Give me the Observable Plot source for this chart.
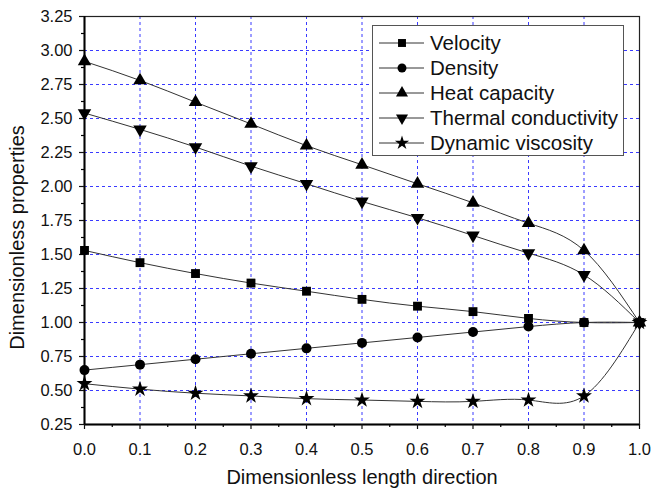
<!DOCTYPE html>
<html>
<head>
<meta charset="utf-8">
<script src="https://cdn.jsdelivr.net/npm/d3@7"></script>
<script src="https://cdn.jsdelivr.net/npm/@observablehq/plot@0.6"></script>
<style>
  html, body { margin: 0; padding: 0; background: #fff; }
  #wrap { position: relative; width: 651px; height: 491px; font-family: "Liberation Sans", Arial, sans-serif; }
  #legend { position: absolute; left: 372px; top: 25px; width: 250px; height: 129px; border: 1px solid #555; background: #fff; }
</style>
</head>
<body>
<div id="wrap"><div id="legend"></div></div>
<script>
const xs = [0.0, 0.1, 0.2, 0.3, 0.4, 0.5, 0.6, 0.7, 0.8, 0.9, 1.0];
const velocity = [1.53, 1.44, 1.36, 1.29, 1.23, 1.17, 1.12, 1.08, 1.03, 1.00, 1.00];
const density = [0.65, 0.69, 0.73, 0.77, 0.81, 0.85, 0.89, 0.93, 0.97, 1.00, 1.00];
const heatCapacity = [2.92, 2.78, 2.62, 2.46, 2.30, 2.16, 2.02, 1.88, 1.73, 1.53, 1.00];
const thermalConductivity = [2.54, 2.42, 2.29, 2.15, 2.02, 1.89, 1.77, 1.64, 1.51, 1.35, 1.00];
const dynamicViscosity = [0.55, 0.51, 0.48, 0.46, 0.44, 0.43, 0.42, 0.42, 0.43, 0.46, 1.00];

const seriesNames = ["Velocity", "Density", "Heat capacity", "Thermal conductivity", "Dynamic viscosity"];
const seriesValues = [velocity, density, heatCapacity, thermalConductivity, dynamicViscosity];
const seriesSymbols = ["square", "circle", "triangle", "triangle", "star"];
const seriesRotate = [0, 0, 0, 180, 0];

const xTicks = [0.0, 0.1, 0.2, 0.3, 0.4, 0.5, 0.6, 0.7, 0.8, 0.9, 1.0];
const yTicks = [0.25, 0.50, 0.75, 1.00, 1.25, 1.50, 1.75, 2.00, 2.25, 2.50, 2.75, 3.00, 3.25];
const xMinor = [0.05, 0.15, 0.25, 0.35, 0.45, 0.55, 0.65, 0.75, 0.85, 0.95];
const yMinor = [0.375, 0.625, 0.875, 1.125, 1.375, 1.625, 1.875, 2.125, 2.375, 2.625, 2.875, 3.125];
const xGrid = [0.1, 0.2, 0.3, 0.4, 0.5, 0.6, 0.7, 0.8, 0.9];
const yGrid = [0.5, 0.75, 1.0, 1.25, 1.5, 1.75, 2.0, 2.25, 2.5, 2.75, 3.0];

const rows = seriesNames.map((name, i) => xs.map((x, j) => ({series: name, x, y: seriesValues[i][j]})));

const marks = [
  Plot.ruleX(xGrid, {stroke: "#3a3aff", strokeWidth: 1, strokeDasharray: "3,3"}),
  Plot.ruleY(yGrid, {stroke: "#3a3aff", strokeWidth: 1, strokeDasharray: "3,3"}),
  Plot.frame({stroke: "#222", strokeWidth: 1.2}),
  Plot.ruleX([0], {stroke: "#000", strokeWidth: 2}),
  Plot.ruleY([0.25], {stroke: "#000", strokeWidth: 2}),
  Plot.axisX({ticks: xTicks, tickFormat: d3.format(".1f"), tickSize: 5, tickPadding: 14, fontSize: 16.5, label: null, strokeWidth: 1.2, color: "#111"}),
  Plot.axisX({ticks: xMinor, tickFormat: () => "", tickSize: 3, label: null, strokeWidth: 1.2}),
  Plot.axisY({ticks: yTicks, tickFormat: d3.format(".2f"), tickSize: 5, tickPadding: 7, fontSize: 16.5, label: null, strokeWidth: 1.2, color: "#111"}),
  Plot.axisY({ticks: yMinor, tickFormat: () => "", tickSize: 3, label: null, strokeWidth: 1.2}),
  Plot.text(["Dimensionless length direction"], {frameAnchor: "bottom", textAnchor: "middle", lineAnchor: "middle", dy: 53, fontSize: 20, fill: "#111"}),
  Plot.text(["Dimensionless properties"], {frameAnchor: "left", textAnchor: "middle", lineAnchor: "middle", rotate: -90, dx: -67, dy: 17, fontSize: 20, fill: "#111"})
];
rows.forEach((data, i) => {
  marks.push(Plot.line(data, {x: "x", y: "y", curve: "natural", stroke: "#333", strokeWidth: 1}));
  marks.push(Plot.dot(data, {x: "x", y: "y", symbol: () => seriesSymbols[i], rotate: seriesRotate[i], r: 5, fill: "#000", stroke: "none"}));
});

const chart = Plot.plot({
  width: 651,
  height: 491,
  marginLeft: 84,
  marginRight: 12,
  marginTop: 16,
  marginBottom: 67,
  style: {fontFamily: "Liberation Sans, Arial, sans-serif", background: "#fff"},
  x: {domain: [0, 1]},
  y: {domain: [0.25, 3.25]},
  symbol: {domain: ["square", "circle", "triangle", "star"], range: ["square", "circle", "triangle", "star"]},
  marks
});
document.getElementById("wrap").insertBefore(chart, document.getElementById("legend"));

// Legend
const lg = d3.select("#legend").append("svg").attr("width", 250).attr("height", 129);
const symTypes = {square: d3.symbolSquare, circle: d3.symbolCircle, triangle: d3.symbolTriangle, star: d3.symbolStar};
seriesNames.forEach((name, i) => {
  const cy = 17 + i * 25;
  lg.append("line").attr("x1", 6).attr("x2", 51).attr("y1", cy).attr("y2", cy).attr("stroke", "#333").attr("stroke-width", 1);
  lg.append("path").attr("d", d3.symbol(symTypes[seriesSymbols[i]], 20 * Math.PI)())
    .attr("transform", `translate(29,${cy}) rotate(${seriesRotate[i]})`).attr("fill", "#000");
  lg.append("text").attr("x", 57).attr("y", cy).attr("dy", "0.35em").attr("font-size", 20.5)
    .attr("font-family", "Liberation Sans, Arial, sans-serif").attr("fill", "#111").text(name);
});
</script>
</body>
</html>
